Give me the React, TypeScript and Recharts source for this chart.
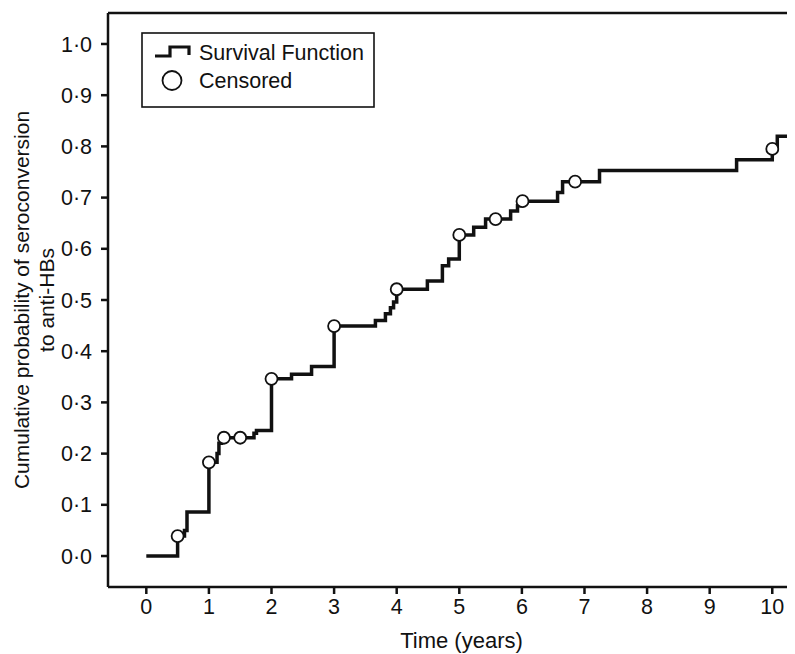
import React from 'react';
import { ComposedChart, Line, Scatter, XAxis, YAxis, ReferenceLine, Legend } from 'recharts';

const stepTimes = [0, 0.5, 0.61, 0.65, 1.0, 1.13, 1.16, 1.2, 1.72, 1.76, 2.0, 2.32, 2.64, 3.0, 3.66, 3.82, 3.9, 3.95, 4.0, 4.49, 4.73, 4.83, 5.0, 5.23, 5.42, 5.82, 5.93, 6.0, 6.57, 6.65, 7.24, 9.43, 10.0, 10.08, 10.363];
const stepValues = [0, 0.039, 0.05, 0.086, 0.183, 0.2, 0.22, 0.231, 0.24, 0.245, 0.346, 0.355, 0.37, 0.449, 0.46, 0.473, 0.485, 0.496, 0.521, 0.537, 0.567, 0.58, 0.627, 0.642, 0.658, 0.674, 0.684, 0.693, 0.71, 0.731, 0.753, 0.774, 0.795, 0.82, 0.82];

const censorTimes = [0.5, 1.0, 1.24, 1.5, 2.0, 3.0, 4.0, 5.0, 5.58, 6.01, 6.85, 10.0];
const censorValues = [0.039, 0.183, 0.231, 0.231, 0.346, 0.449, 0.521, 0.627, 0.658, 0.693, 0.731, 0.795];

const xTicks = [0, 1, 2, 3, 4, 5, 6, 7, 8, 9, 10];
const yTicks = [0, 0.1, 0.2, 0.3, 0.4, 0.5, 0.6, 0.7, 0.8, 0.9, 1.0];

const xDomain = [-0.612, 10.363];
const yDomain = [-0.0605, 1.0605];

const survData = stepTimes.map((t, i) => ({ t, v: stepValues[i] }));
const censorData = censorTimes.map((t, i) => ({ t, v: censorValues[i] }));

const FONT = '"Liberation Sans", Arial, Helvetica, sans-serif';
const FS = 21.5;

const YLabel = (props: any) => {
  const vb = props.viewBox || {};
  const cy = vb.y + vb.height / 2;
  return (
    <g>
      <text x={13} y={cy} transform={`rotate(-90 13 ${cy})`} textAnchor="middle" dominantBaseline="central" fontFamily={FONT} fontSize={21} fill="#111">
        Cumulative probability of seroconversion
      </text>
      <text x={38} y={cy} transform={`rotate(-90 38 ${cy})`} textAnchor="middle" dominantBaseline="central" fontFamily={FONT} fontSize={21} fill="#111">
        to anti-HBs
      </text>
    </g>
  );
};

const XLabel = (props: any) => {
  const vb = props.viewBox || {};
  return (
    <text x={vb.x + vb.width / 2 + 10} y={vb.y + 61} textAnchor="middle" fontFamily={FONT} fontSize={22} fill="#111">
      Time (years)
    </text>
  );
};

const LegendBox = () => (
  <svg width={234} height={76} style={{ display: 'block' }}>
    <rect x={1} y={1} width={232} height={74} fill="#fff" stroke="#111" strokeWidth={1.6} />
    <path d="M14 24 L29 24 L29 15 L48 15 L48 23" fill="none" stroke="#111" strokeWidth={3.2} />
    <text x={58} y={27.5} fontFamily={FONT} fontSize={FS} fill="#111">Survival Function</text>
    <circle cx={31} cy={48.5} r={9.5} fill="#fff" stroke="#111" strokeWidth={1.8} />
    <text x={58} y={55.5} fontFamily={FONT} fontSize={FS} fill="#111">Censored</text>
  </svg>
);

const CensorShape = (props: any) => (
  <circle cx={props.cx} cy={props.cy} r={6} fill="#fff" stroke="#111" strokeWidth={1.8} />
);

export default function App() {
  return (
    <ComposedChart width={787} height={646} margin={{ top: 5, right: 0, bottom: 0, left: 0 }}>
      <XAxis
        dataKey="t"
        type="number"
        domain={xDomain}
        allowDataOverflow
        ticks={xTicks}
        interval={0}
        height={67}
        axisLine={{ stroke: '#111', strokeWidth: 2.5 }}
        tickLine={{ stroke: '#111', strokeWidth: 2.5 }}
        tickSize={7}
        tickMargin={5}
        tick={{ fill: '#111', fontSize: FS, fontFamily: FONT }}
        label={<XLabel />}
      />
      <YAxis
        type="number"
        domain={yDomain}
        allowDataOverflow
        ticks={yTicks}
        interval={0}
        width={100}
        axisLine={{ stroke: '#111', strokeWidth: 2.5 }}
        tickLine={{ stroke: '#111', strokeWidth: 2.5 }}
        tickSize={7}
        tickMargin={9}
        tick={{ fill: '#111', fontSize: FS, fontFamily: FONT }}
        tickFormatter={(v: number) => v.toFixed(1).replace('.', '·')}
        label={<YLabel />}
      />
      <ReferenceLine y={yDomain[1]} stroke="#111" strokeWidth={2.5} />
      <Legend
        layout="horizontal"
        verticalAlign="middle"
        align="center"
        wrapperStyle={{ position: 'absolute', left: 133, top: 24, width: 234, height: 76 }}
        content={() => <LegendBox />}
      />
      <Line
        data={survData}
        dataKey="v"
        type="stepAfter"
        stroke="#111"
        strokeWidth={3.5}
        dot={false}
        activeDot={false}
        isAnimationActive={false}
        legendType="none"
      />
      <Scatter
        data={censorData}
        dataKey="v"
        shape={<CensorShape />}
        isAnimationActive={false}
        legendType="none"
      />
    </ComposedChart>
  );
}
